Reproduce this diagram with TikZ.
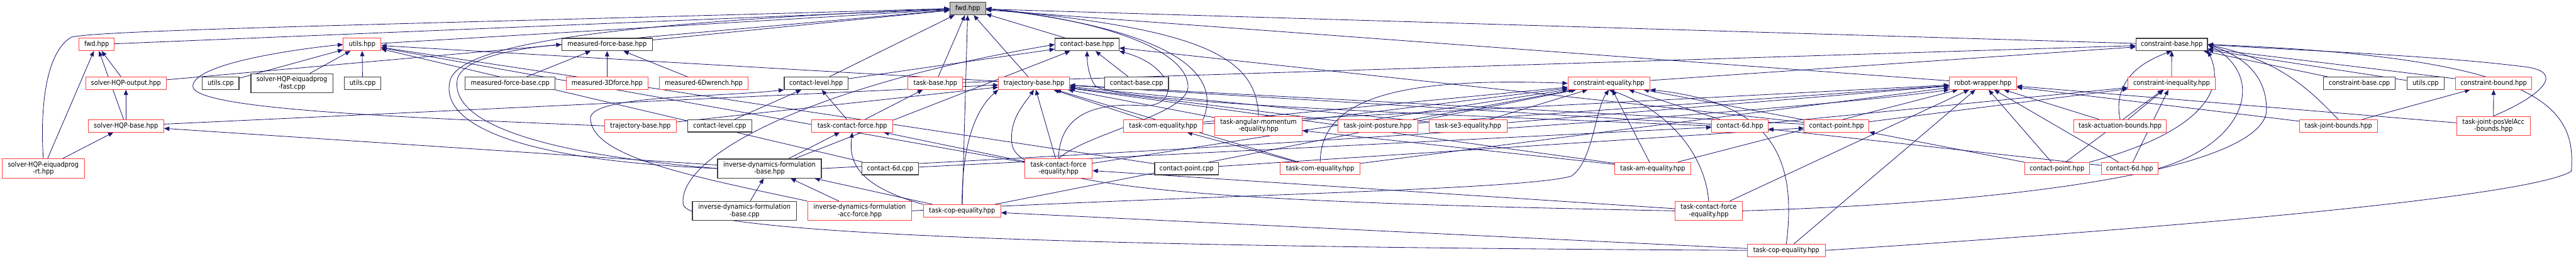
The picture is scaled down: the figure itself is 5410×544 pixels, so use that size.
\documentclass[tikz,border=0pt]{standalone}
\usepackage{fontspec}
\setmainfont{DejaVu Sans Condensed}
\usepackage{xcolor}
\usepackage{tikz}
\usetikzlibrary{arrows.meta,backgrounds}
\newcommand\depfont{\fontsize{14.4}{15}\selectfont}

\begin{document}
\begin{tikzpicture}[x=1pt,y=-1pt,
  file/.style={draw,fill=white,inner sep=0pt,minimum height=26pt,font=\depfont,align=center,text=black},
  redfile/.style={file,draw=bred,line width=1.2pt},
  blkfile/.style={file,draw=bgray,line width=1.7pt},
  rootfile/.style={file,draw=bgray,fill=rootgray,line width=1.7pt},
  twoline/.style={minimum height=40pt},
  dep/.style={draw=edgeblue,line width=1.1pt,-{Triangle[length=11pt,width=9pt]}}]
\definecolor{bred}{RGB}{255,64,64}
\definecolor{bgray}{RGB}{64,64,64}
\definecolor{rootgray}{RGB}{191,191,191}
\definecolor{edgeblue}{RGB}{25,25,112}
\useasboundingbox (0,0) rectangle (5410,544);
% row 1
\node[rootfile,minimum width=75pt] (fwdm) at (2032.5,18) {fwd.hpp};
% row 2
\node[redfile,minimum width=74pt] (fwds) at (203,93.5) {fwd.hpp};
\node[redfile,minimum width=79pt] (utilsh) at (760.5,93.5) {utils.hpp};
\node[blkfile,minimum width=190pt] (mfbh) at (1275,93.5) {measured-force-base.hpp};
\node[blkfile,minimum width=134pt] (cbaseh) at (2283,93.5) {contact-base.hpp};
\node[blkfile,minimum width=150pt] (conbaseh) at (4561,93.5) {constraint-base.hpp};
% row 3
\node[redfile,minimum width=169pt] (outh) at (264.5,175) {solver-HQP-output.hpp};
\node[blkfile,minimum width=77pt] (utilsa) at (463.5,175) {utils.cpp};
\node[blkfile,twoline,minimum width=172pt] (fastcpp) at (613,175) {solver-HQP-eiquadprog\\-fast.cpp};
\node[blkfile,minimum width=77pt] (utilsb) at (761.5,175) {utils.cpp};
\node[blkfile,minimum width=189pt] (mfbcpp) at (1071.5,175) {measured-force-base.cpp};
\node[redfile,minimum width=172pt] (m3d) at (1275,175) {measured-3Dforce.hpp};
\node[redfile,minimum width=186pt] (m6d) at (1478,175) {measured-6Dwrench.hpp};
\node[blkfile,minimum width=134pt] (clevh) at (1714,175) {contact-level.hpp};
\node[redfile,minimum width=115pt] (tbaseh) at (1964.5,175) {task-base.hpp};
\node[redfile,minimum width=149pt] (trajh) at (2171.5,175) {trajectory-base.hpp};
\node[blkfile,minimum width=134pt] (cbasecpp) at (2387,175) {contact-base.cpp};
\node[redfile,minimum width=172pt] (ceqh) at (3379,175) {constraint-equality.hpp};
\node[redfile,minimum width=141pt] (robh) at (4164.5,175) {robot-wrapper.hpp};
\node[redfile,minimum width=183pt] (cineqh) at (4560.5,175) {constraint-inequality.hpp};
\node[blkfile,minimum width=150pt] (conbasecpp) at (4955,175) {constraint-base.cpp};
\node[blkfile,minimum width=78pt] (utilsc) at (5094,175) {utils.cpp};
\node[redfile,minimum width=160pt] (cboundh) at (5237,175) {constraint-bound.hpp};
% row 4
\node[redfile,minimum width=159pt] (baseh) at (264.5,264.5) {solver-HQP-base.hpp};
\node[redfile,minimum width=150pt] (trajb) at (1345,264.5) {trajectory-base.hpp};
\node[blkfile,minimum width=135pt] (clevcpp) at (1511.5,264.5) {contact-level.cpp};
\node[redfile,minimum width=170pt] (tcfh) at (1790,264.5) {task-contact-force.hpp};
\node[redfile,minimum width=166pt] (tcomh) at (2443,264.5) {task-com-equality.hpp};
\node[redfile,twoline,minimum width=184pt] (tamomh) at (2643,264.5) {task-angular-momentum\\-equality.hpp};
\node[redfile,minimum width=167pt] (tjph) at (2893.5,264.5) {task-joint-posture.hpp};
\node[redfile,minimum width=163pt] (tse3h) at (3083.5,264.5) {task-se3-equality.hpp};
\node[redfile,minimum width=118pt] (c6dh) at (3654,264.5) {contact-6d.hpp};
\node[redfile,minimum width=136pt] (cpth) at (3857,264.5) {contact-point.hpp};
\node[redfile,minimum width=195pt] (tabh) at (4452.5,264.5) {task-actuation-bounds.hpp};
\node[redfile,minimum width=164pt] (tjbh) at (4911,264.5) {task-joint-bounds.hpp};
\node[redfile,twoline,minimum width=155pt] (tjpvah) at (5236.5,264.5) {task-joint-posVelAcc\\-bounds.hpp};
% row 5
\node[redfile,twoline,minimum width=172pt] (rth) at (91,354) {solver-HQP-eiquadprog\\-rt.hpp};
\node[blkfile,twoline,minimum width=218pt] (idfbh) at (1616,354) {inverse-dynamics-formulation\\-base.hpp};
\node[blkfile,minimum width=119pt] (c6dcpp) at (1869.5,354) {contact-6d.cpp};
\node[redfile,twoline,minimum width=142pt] (tcfeh) at (2223,354) {task-contact-force\\-equality.hpp};
\node[blkfile,minimum width=134pt] (cptcpp) at (2492,354) {contact-point.cpp};
\node[redfile,minimum width=167pt] (tcomb) at (2772.5,354) {task-com-equality.hpp};
\node[redfile,minimum width=160pt] (tamh) at (3471,354) {task-am-equality.hpp};
\node[redfile,minimum width=136pt] (cptb) at (4320,354) {contact-point.hpp};
\node[redfile,minimum width=119pt] (c6db) at (4472.5,354) {contact-6d.hpp};
% row 6
\node[blkfile,twoline,minimum width=219pt] (idfbcpp) at (1563.5,443) {inverse-dynamics-formulation\\-base.cpp};
\node[redfile,twoline,minimum width=219pt] (idfah) at (1805.5,443) {inverse-dynamics-formulation\\-acc-force.hpp};
\node[redfile,minimum width=163pt] (tcoph) at (2020.5,443) {task-cop-equality.hpp};
\node[redfile,twoline,minimum width=141pt] (tcfeb) at (3588.5,443) {task-contact-force\\-equality.hpp};
% row 7
\node[redfile,minimum width=163pt] (tcopb) at (3751.5,526) {task-cop-equality.hpp};

\begin{scope}[on background layer]
% solvers
\draw[dep] (fwds) -- (fwdm);
\draw[dep] (outh) -- (fwds);
\draw[dep] (outh) -- (fwdm);
\draw[dep] (baseh) -- (fwds);
\draw[dep] (baseh) -- (outh);
\draw[dep] (baseh) -- (trajh);
\draw[dep] (rth) -- (fwds);
\draw[dep] (rth) -- (baseh);
\draw[dep] (rth.north) .. controls (84,230) and (95,110) .. (150,78) .. controls (220,62) and (900,50) .. (fwdm.west);
% utils
\draw[dep] (utilsh) -- (fwdm);
\draw[dep] (utilsa) -- (utilsh);
\draw[dep] (fastcpp) -- (utilsh);
\draw[dep] (utilsb) -- (utilsh);
\draw[dep] (trajb.west) .. controls (800,245) and (400,228) .. (405,180) .. controls (410,130) and (650,100) .. (utilsh.west);
\draw[dep] (trajh) -- (utilsh);
\draw[dep] (c6dcpp) -- (utilsh);
\draw[dep] (cptcpp) -- (utilsh);
\draw[dep] (tcfeh) -- (utilsh);
% measured force
\draw[dep] (mfbh) -- (fwdm);
\draw[dep] (mfbcpp) -- (mfbh);
\draw[dep] (m3d) -- (mfbh);
\draw[dep] (m6d) -- (mfbh);
% contact level and base
\draw[dep] (cbaseh) -- (fwdm);
\draw[dep] (cbasecpp) -- (cbaseh);
\draw[dep] (clevh) -- (fwdm);
\draw[dep] (clevh) -- (cbaseh);
\draw[dep] (clevcpp) -- (clevh);
\draw[dep] (tcfh) -- (clevh);
\draw[dep] (tcfh) -- (tbaseh);
\draw[dep] (tbaseh) -- (fwdm);
\draw[dep] (tbaseh) -- (conbaseh);
\draw[dep] (trajh) -- (fwdm);
\draw[dep] (trajb) -- (trajh);
\draw[dep] (robh) -- (fwdm);
\draw[dep] (conbaseh) -- (fwdm);
% formulation
\draw[dep] (idfbh) -- (baseh);
\draw[dep] (idfbh.west) .. controls (1100,320) and (950,250) .. (960,170) .. controls (965,120) and (1100,100) .. (mfbh.west);
\draw[dep] (idfbh.west) .. controls (1050,335) and (925,250) .. (945,170) .. controls (965,90) and (1300,48) .. (fwdm.west);
\draw[dep] (idfbh) -- (cbaseh);
\draw[dep] (idfbh) -- (tcfh);
\draw[dep] (idfbh.east) .. controls (2800,300) and (3800,230) .. (robh.south west);
\draw[dep] (idfbcpp) -- (idfbh);
\draw[dep] (idfah) -- (idfbh);
\draw[dep] (idfah.north west) .. controls (1450,370) and (1245,330) .. (1240,250) .. controls (1236,200) and (1500,205) .. (clevh.south west);
\draw[dep] (idfah.east) .. controls (2500,410) and (3200,400) .. (3300,370) .. controls (3345,340) and (3350,230) .. (ceqh.south);
\draw[dep] (c6dcpp) -- (c6dh);
\draw[dep] (cptcpp) -- (cpth);
% tasks
\draw[dep] (tcoph) -- (fwdm);
\draw[dep] (tcoph.north west) .. controls (1800,390) and (1782,340) .. (tcfh.south);
\draw[dep] (tcoph) -- (idfbh);
\draw[dep] (tcoph.north) .. controls (2020,280) and (2060,220) .. (trajh.south west);
\draw[dep] (tcoph) -- (ceqh);
\draw[dep] (tcfeh.north) .. controls (2280,280) and (2500,240) .. (2495,180) .. controls (2490,100) and (2300,40) .. (fwdm.east);
\draw[dep] (tcfeh.north) .. controls (2225,240) and (2300,215) .. (2400,222) .. controls (2480,225) and (2470,140) .. (cbaseh.south east);
\draw[dep] (tcfeh) -- (tcfh);
\draw[dep] (tcfeh) -- (trajh);
\draw[dep] (tcfeh) -- (ceqh);
\draw[dep] (tcomh.north east) .. controls (2570,150) and (2450,60) .. (fwdm.east);
\draw[dep] (tcomh) -- (trajh);
\draw[dep] (tcomh) -- (ceqh);
\draw[dep] (tcomh) -- (robh);
\draw[dep] (tamomh.north) .. controls (2640,110) and (2500,60) .. (fwdm.east);
\draw[dep] (tamomh) -- (trajh);
\draw[dep] (tamomh) -- (ceqh);
\draw[dep] (tcomb) -- (tcomh);
\draw[dep] (tcomb.north) .. controls (2775,220) and (2900,160) .. (ceqh.west);
\draw[dep] (tcomb) -- (trajh);
\draw[dep] (tcomb) -- (robh);
\draw[dep] (tjph) -- (trajh);
\draw[dep] (tjph) -- (ceqh);
\draw[dep] (tjph) -- (robh);
\draw[dep] (tse3h) -- (trajh);
\draw[dep] (tse3h) -- (ceqh);
\draw[dep] (tse3h) -- (robh);
\draw[dep] (tamh) -- (tamomh);
\draw[dep] (tamh) -- (ceqh);
\draw[dep] (tamh) -- (trajh);
\draw[dep] (tamh) -- (robh);
% contacts
\draw[dep] (c6dh.west) .. controls (3000,240) and (2330,215) .. (2300,180) .. controls (2286,160) and (2283,130) .. (cbaseh.south);
\draw[dep] (c6dh) -- (ceqh);
\draw[dep] (c6dh) -- (cineqh);
\draw[dep] (c6dh) -- (trajh);
\draw[dep] (cpth) -- (cbaseh);
\draw[dep] (cpth) -- (ceqh);
\draw[dep] (cpth) -- (cineqh);
\draw[dep] (cpth) -- (trajh);
\draw[dep] (cptb) -- (cpth);
\draw[dep] (cptb) -- (cineqh);
\draw[dep] (cptb.north east) .. controls (4600,285) and (4680,200) .. (conbaseh.south east);
\draw[dep] (cptb) -- (robh);
\draw[dep] (c6db) -- (c6dh);
\draw[dep] (c6db) -- (cineqh);
\draw[dep] (c6db) -- (robh);
\draw[dep] (c6db.east) .. controls (4720,300) and (4760,160) .. (conbaseh.east);
% lower tasks
\draw[dep] (tcfeb) -- (tcfeh);
\draw[dep] (tcfeb.north) .. controls (3580,320) and (3500,230) .. (ceqh.south);
\draw[dep] (tcfeb.west) .. controls (2600,425) and (2130,400) .. (2125,300) .. controls (2120,250) and (2150,220) .. (trajh.south);
\draw[dep] (tcfeb.east) .. controls (4400,420) and (4760,330) .. (4760,230) .. controls (4760,150) and (4700,115) .. (conbaseh.east);
\draw[dep] (tcfeb) -- (robh);
\draw[dep] (tcopb) -- (tcoph);
\draw[dep] (tcopb.north) .. controls (3775,330) and (3720,215) .. (ceqh.south east);
\draw[dep] (tcopb) -- (robh);
\draw[dep] (tcopb.east) .. controls (4400,490) and (5300,420) .. (5400,360) .. controls (5412,220) and (5330,120) .. (conbaseh.east);
\draw[dep] (tcopb.west) .. controls (2500,520) and (1450,500) .. (1435,430) .. controls (1420,330) and (1700,180) .. (cbaseh.west);
% constraints
\draw[dep] (ceqh) -- (conbaseh);
\draw[dep] (cineqh) -- (conbaseh);
\draw[dep] (tabh.north) .. controls (4440,190) and (4470,140) .. (conbaseh.south);
\draw[dep] (tabh) -- (cineqh);
\draw[dep] (tabh) -- (robh);
\draw[dep] (conbasecpp) -- (conbaseh);
\draw[dep] (utilsc) -- (conbaseh);
\draw[dep] (cboundh) -- (conbaseh);
\draw[dep] (tjbh) -- (cboundh);
\draw[dep] (tjbh.north) .. controls (4860,200) and (4800,130) .. (conbaseh.east);
\draw[dep] (tjbh) -- (robh);
\draw[dep] (tjpvah) -- (cboundh);
\draw[dep] (tjpvah.north) .. controls (5340,200) and (5390,150) .. (5300,140) .. controls (5100,115) and (4800,105) .. (conbaseh.east);
\draw[dep] (tjpvah) -- (robh);
\end{scope}
\end{tikzpicture}
\end{document}
